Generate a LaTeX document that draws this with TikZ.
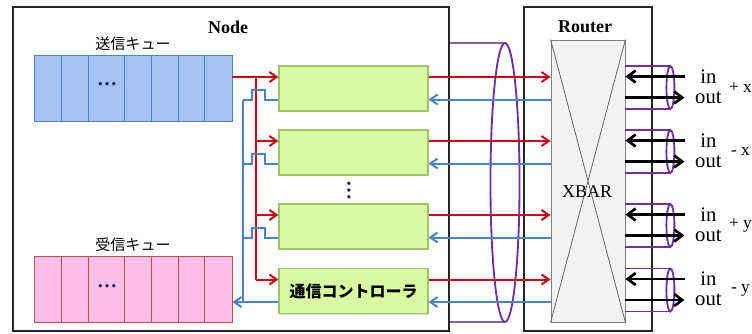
\documentclass[tikz,border=0pt]{standalone}
\usepackage{fontspec}
\setmainfont{Liberation Serif}
\newfontfamily\jafont{Noto Sans CJK JP}
\usetikzlibrary{arrows.meta,positioning,calc,shadows}
\definecolor{qblue}{RGB}{164,194,244}
\definecolor{qblueline}{RGB}{79,129,189}
\definecolor{qpink}{RGB}{250,190,233}
\definecolor{qpinkline}{RGB}{192,80,77}
\definecolor{ctlgreen}{RGB}{216,250,160}
\definecolor{ctlline}{RGB}{160,195,100}
\definecolor{sigred}{RGB}{200,10,20}
\definecolor{sigblue}{RGB}{75,130,195}
\definecolor{cablepurple}{RGB}{112,48,160}
\definecolor{cablelight}{RGB}{128,100,162}
\definecolor{xbargray}{RGB}{242,242,242}
\definecolor{dotnavy}{RGB}{20,20,70}

\begin{document}
\begin{tikzpicture}[x=0.75pt,y=-0.75pt,
  frame/.style={draw=black!85,line width=1.9pt,fill=white,inner sep=0pt},
  queue/.style={draw,line width=0.6pt,inner sep=0pt,minimum width=148.5pt,minimum height=49.5pt,
    drop shadow={opacity=0.25,shadow xshift=1pt,shadow yshift=-1pt}},
  ctl/.style={draw=ctlline,line width=0.8pt,fill=ctlgreen,inner sep=0pt,minimum width=111.75pt,minimum height=33.75pt,
    drop shadow={opacity=0.25,shadow xshift=1pt,shadow yshift=-1pt}},
  jalbl/.style={font=\jafont\fontsize{11.3}{13}\selectfont,inner sep=1pt},
  boxlbl/.style={font=\fontsize{13.5}{15}\selectfont\bfseries},
  portlbl/.style={font=\fontsize{15.5}{16}\selectfont,inner sep=0pt},
  dirlbl/.style={font=\fontsize{13}{15}\selectfont,inner sep=0pt},
  dots/.style={text=dotnavy,inner sep=0pt,font=\fontsize{15}{15}\selectfont\bfseries},
  redwire/.style={draw=sigred,line width=1.5pt},
  bluewire/.style={draw=sigblue,line width=1.5pt},
  redarr/.style={redwire,-{Straight Barb[length=5.5pt,width=7.5pt]}},
  bluearr/.style={bluewire,-{Straight Barb[length=5.5pt,width=7.5pt]}},
  portarr/.style={draw=black,line width=2pt,-{Straight Barb[length=6pt,width=9pt]}},
  cable/.style={draw=cablepurple,line width=1.4pt}]
\useasboundingbox (0,0) rectangle (752,333);

% frames
\node[frame,minimum width=327pt,minimum height=243pt] (nodebox) at (231,169) {};
\node[frame,minimum width=96pt,minimum height=243pt] (router) at (588,169) {};
\node[boxlbl] (nodelbl) at (228,27) {Node};
\node[boxlbl] (routerlbl) at (585,27) {Router};

% queues
\node[queue,draw=qblueline,fill=qblue] (sendq) at (133,88) {};
\node[queue,draw=qpinkline,fill=qpink] (recvq) at (133,289) {};
\foreach \cx in {61.5,88,124.5,151,178,204.5} {
  \draw[qblueline,line width=0.6pt] (\cx,55) -- (\cx,121);
  \draw[qpinkline,line width=0.6pt] (\cx,256) -- (\cx,322);
}
\node[dots] (senddots) at (107,84) {…};
\node[dots] (recvdots) at (107,286) {…};
\node[jalbl,above=2pt of sendq] (sendlbl) {送信キュー};
\node[jalbl,above=2pt of recvq] (recvlbl) {受信キュー};

% controllers
\node[ctl] (ctl1) at (353.5,88.5) {};
\node[ctl] (ctl2) at (353.5,152.5) {};
\node[ctl] (ctl3) at (353.5,226.5) {};
\node[ctl,font=\jafont\bfseries\fontsize{12}{14}\selectfont] (ctl4) at (353.5,291) {通信コントローラ};
\node[dots,rotate=-90] (vdots) at (349,190) {…};

% router
\node[draw=black!50,line width=0.6pt,fill=xbargray,minimum width=55.5pt,minimum height=211.5pt,inner sep=0pt] (xbar) at (588,181) {};
\draw[black!60,line width=0.6pt] (xbar.north west) -- (xbar.south east) (xbar.north east) -- (xbar.south west);
\node[font=\fontsize{13.5}{15}\selectfont] (xbarlbl) at (587,192) {XBAR};

% cable bundle
\coordinate (btop) at (505,43);
\coordinate (bbot) at (505,322);
\coordinate (bundle) at (505,182.5);
\draw[cable,draw=cablelight,line width=2pt] (nodebox.east |- btop) -- (btop);
\draw[cable,draw=cablelight,line width=2pt] (nodebox.east |- bbot) -- (bbot);
\draw[cable] (bundle) ellipse [x radius=10.9pt,y radius=104.6pt];

% wires
\coordinate (redbus) at (256,0);
\coordinate (bluebus) at (243,0);
\foreach \i in {1,...,4} {
  \coordinate (rin\i) at ($(ctl\i.west)+(0,-11.5)$);
  \coordinate (bout\i) at ($(ctl\i.west)+(0,11)$);
}
\draw[redarr] (sendq.east |- rin1) -- (rin1);
\draw[redwire] (redbus |- rin1) -- (redbus |- rin4);
\foreach \i in {2,3,4}
  \draw[redarr] (redbus |- rin\i) -- (rin\i);
\foreach \i in {1,2,3}
  \draw[bluewire] (bout\i) -- ++(-13,0) -- ++(0,-10) -- ++(-13,0) -- ++(0,10) -- (bluebus |- bout\i);
\draw[bluewire] (bluebus |- bout1) -- (bluebus |- bout4);
\draw[bluearr] (bout4) -- (recvq.east |- bout4);
\foreach \i in {1,...,4} {
  \draw[redarr] (ctl\i.east |- rin\i) -- (xbar.west |- rin\i);
  \draw[bluearr] (xbar.west |- bout\i) -- (ctl\i.east |- bout\i);
}

% ports
\foreach \i/\d in {1/+ x,2/- x,3/+ y,4/- y} {
  \coordinate (pl\i) at ($(xbar.east |- ctl\i)+(0,-1)$);
  \draw[cable] ($(pl\i)+(0,-21.5)$) -- ++(45,0) ($(pl\i)+(0,21.5)$) -- ++(45,0);
  \draw[cable] ($(pl\i)+(45,0)$) ellipse [x radius=3pt,y radius=16.1pt];
  \node[portlbl] (in\i) at ($(pl\i)+(83,-11)$) {in};
  \node[portlbl] (out\i) at ($(pl\i)+(83,10)$) {out};
  \node[dirlbl] (dir\i) at ($(pl\i)+(115,0)$) {\d};
  \coordinate (pin\i) at ($(pl\i)+(60,-11)$);
  \coordinate (pout\i) at ($(pl\i)+(59,10)$);
  \draw[portarr] (pin\i) -- (xbar.east |- pin\i);
  \draw[portarr] (xbar.east |- pout\i) -- (pout\i);
}
\end{tikzpicture}
\end{document}
